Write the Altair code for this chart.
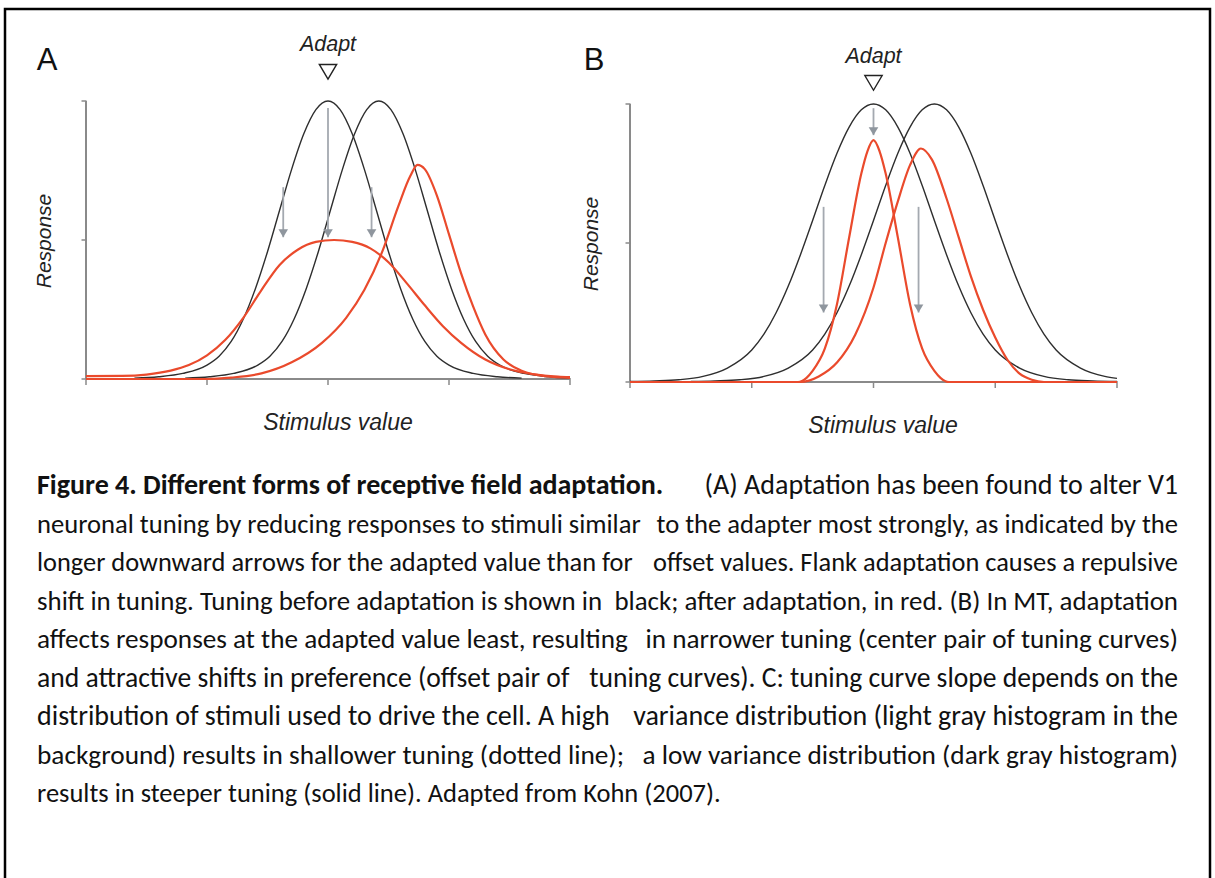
import altair as alt
import pandas as pd

# ---------------- Panel A: V1 tuning before / after adaptation ----------------
# stimulus axis runs 0..4, the adapter sits at 2
a_pre1_x = [0.4, 0.6, 0.8, 1.0, 1.1, 1.2, 1.3, 1.4, 1.5, 1.6, 1.7, 1.8, 1.9, 2.0,
            2.1, 2.2, 2.3, 2.4, 2.5, 2.6, 2.7, 2.8, 2.9, 3.0, 3.2, 3.4, 3.6]
a_pre1_y = [0.003, 0.008, 0.02, 0.05, 0.082, 0.135, 0.216, 0.325, 0.458, 0.607, 0.755, 0.882, 0.969, 1.0,
            0.969, 0.882, 0.755, 0.607, 0.458, 0.325, 0.216, 0.135, 0.082, 0.05, 0.02, 0.008, 0.003]
a_pre2_x = [0.82, 1.02, 1.22, 1.42, 1.52, 1.62, 1.72, 1.82, 1.92, 2.02, 2.12, 2.22, 2.32, 2.42,
            2.52, 2.62, 2.72, 2.82, 2.92, 3.02, 3.12, 3.22, 3.32, 3.42, 3.62, 3.82, 4.0]
a_pre2_y = [0.003, 0.008, 0.02, 0.05, 0.082, 0.135, 0.216, 0.325, 0.458, 0.607, 0.755, 0.882, 0.969, 1.0,
            0.969, 0.882, 0.755, 0.607, 0.458, 0.325, 0.216, 0.135, 0.082, 0.05, 0.02, 0.008, 0.003]
a_post1_x = [0.0, 0.3, 0.5, 0.7, 0.85, 1.0, 1.15, 1.3, 1.45, 1.6, 1.75, 1.9, 2.05, 2.2, 2.35,
             2.5, 2.65, 2.8, 2.95, 3.1, 3.3, 3.5, 3.7, 3.9, 4.0]
a_post1_y = [0.01, 0.011, 0.016, 0.03, 0.05, 0.085, 0.14, 0.22, 0.32, 0.41, 0.465, 0.493, 0.5, 0.493, 0.47,
             0.42, 0.345, 0.265, 0.19, 0.13, 0.07, 0.035, 0.017, 0.009, 0.007]
a_post2_x = [0.0, 1.0, 1.2, 1.45, 1.7, 1.95, 2.15, 2.3, 2.45, 2.58, 2.68, 2.74, 2.8, 2.9,
             3.0, 3.1, 3.2, 3.3, 3.45, 3.6, 3.8, 4.0]
a_post2_y = [0.0, 0.0, 0.005, 0.02, 0.06, 0.13, 0.22, 0.32, 0.46, 0.62, 0.73, 0.77, 0.755, 0.66,
             0.52, 0.38, 0.26, 0.16, 0.07, 0.03, 0.01, 0.004]
a_arrow_x = [1.63, 2.0, 2.36]
a_arrow_from = [0.69, 0.975, 0.69]
a_arrow_to = [0.51, 0.51, 0.51]

# ---------------- Panel B: MT tuning before / after adaptation ----------------
b_pre1_x = [0.0, 0.2, 0.4, 0.6, 0.8, 1.0, 1.1, 1.2, 1.3, 1.4, 1.5, 1.6, 1.7, 1.8, 1.9, 2.0,
            2.1, 2.2, 2.3, 2.4, 2.5, 2.6, 2.7, 2.8, 2.9, 3.0, 3.2, 3.4, 3.6, 3.8, 4.0]
b_pre1_y = [0.002, 0.004, 0.008, 0.02, 0.05, 0.115, 0.172, 0.249, 0.345, 0.458, 0.581, 0.707, 0.823, 0.917, 0.979, 1.0,
            0.979, 0.917, 0.823, 0.707, 0.581, 0.458, 0.345, 0.249, 0.172, 0.115, 0.05, 0.02, 0.008, 0.004, 0.002]
b_pre2_x = [0.5, 0.7, 0.9, 1.1, 1.3, 1.5, 1.6, 1.7, 1.8, 1.9, 2.0, 2.1, 2.2, 2.3, 2.4, 2.5,
            2.6, 2.7, 2.8, 2.9, 3.0, 3.1, 3.2, 3.3, 3.4, 3.5, 3.7, 3.9, 4.0]
b_pre2_y = [0.002, 0.004, 0.008, 0.02, 0.05, 0.115, 0.172, 0.249, 0.345, 0.458, 0.581, 0.707, 0.823, 0.917, 0.979, 1.0,
            0.979, 0.917, 0.823, 0.707, 0.581, 0.458, 0.345, 0.249, 0.172, 0.115, 0.05, 0.02, 0.013]
b_post1_x = [0.0, 1.38, 1.45, 1.5, 1.6, 1.7, 1.8, 1.9, 1.95, 2.0, 2.05, 2.1, 2.2, 2.3, 2.4, 2.5, 2.55, 2.62, 4.0]
b_post1_y = [0.0, 0.0, 0.015, 0.04, 0.12, 0.28, 0.52, 0.75, 0.83, 0.87, 0.83, 0.75, 0.52, 0.28, 0.12, 0.04, 0.015, 0.0, 0.0]
b_post2_x = [0.0, 1.4, 1.55, 1.7, 1.85, 2.0, 2.1, 2.2, 2.3, 2.39, 2.48, 2.6, 2.7, 2.8, 2.9, 3.0, 3.1, 3.2, 3.3, 3.4, 4.0]
b_post2_y = [0.0, 0.0, 0.02, 0.07, 0.17, 0.34, 0.5, 0.65, 0.78, 0.84, 0.8, 0.66, 0.52, 0.38, 0.26, 0.16, 0.08, 0.03, 0.008, 0.0, 0.0]
b_arrow_x = [1.59, 2.0, 2.37]
b_arrow_from = [0.63, 0.985, 0.63]
b_arrow_to = [0.25, 0.888, 0.25]

x_ticks = [0, 1, 2, 3, 4]
y_ticks = [0, 0.5, 1]
adapt_value = 2.0

# ---------------- caption (justified paragraph) ----------------
caption_bold = "Figure 4. Different forms of receptive field adaptation."
caption_lines = [
    "(A) Adaptation has been found to alter V1",
    "neuronal tuning by reducing responses to stimuli similar to the adapter most strongly, as indicated by the",
    "longer downward arrows for the adapted value than for offset values. Flank adaptation causes a repulsive",
    "shift in tuning. Tuning before adaptation is shown in black; after adaptation, in red. (B) In MT, adaptation",
    "affects responses at the adapted value least, resulting in narrower tuning (center pair of tuning curves)",
    "and attractive shifts in preference (offset pair of tuning curves). C: tuning curve slope depends on the",
    "distribution of stimuli used to drive the cell. A high variance distribution (light gray histogram in the",
    "background) results in shallower tuning (dotted line); a low variance distribution (dark gray histogram)",
    "results in steeper tuning (solid line). Adapted from Kohn (2007).",
]
# per-line type size, so each justified line fills the measure
caption_sizes = [28.0, 26.6, 26.4, 26.9, 27.2, 27.6, 28.0, 27.3, 26.5]

BLACK = "#2e2e2e"
RED = "#ea4a2c"
AXIS = "#8a8a8a"
ARROW = "#a4a9b0"
ARROW_HEAD = "#8f969e"
SANS = "Liberation Sans, Arial, Helvetica, sans-serif"
CAPTION_FONT = "Carlito, Calibri, Lato, sans-serif"
TEXT_LEFT, TEXT_RIGHT = 37, 1178


def series(name, xs, ys):
    return pd.DataFrame({"curve": name, "x": xs, "y": ys, "i": list(range(len(xs)))})


def panel(xs, ys, pre, post, arr_x, arr_from, arr_to, tri_y, text_y):
    X = lambda f="x:Q": alt.X(f, scale=xs, axis=None)
    Y = lambda f="y:Q": alt.Y(f, scale=ys, axis=None)

    axes_df = pd.DataFrame({"x": [0, 0], "y": [0, 0], "x2": [4, 0], "y2": [0, 1]})
    axes = alt.Chart(axes_df).mark_rule(color=AXIS, strokeWidth=2).encode(
        x=X(), y=Y(), x2="x2:Q", y2="y2:Q")
    xt = alt.Chart(pd.DataFrame({"x": x_ticks, "y": 0})).mark_tick(
        orient="vertical", size=7, thickness=1.5, yOffset=2.5, color=AXIS, opacity=1
    ).encode(x=X(), y=Y())
    yt = alt.Chart(pd.DataFrame({"x": 0, "y": y_ticks})).mark_tick(
        orient="horizontal", size=5, thickness=1.5, xOffset=-2, color=AXIS, opacity=1
    ).encode(x=X(), y=Y())

    before = alt.Chart(pd.concat(pre)).mark_line(
        color=BLACK, strokeWidth=1.4, interpolate="monotone"
    ).encode(x=X(), y=Y(), detail="curve:N", order="i:Q")
    after = alt.Chart(pd.concat(post)).mark_line(
        color=RED, strokeWidth=2.2, interpolate="monotone"
    ).encode(x=X(), y=Y(), detail="curve:N", order="i:Q")

    arr_df = pd.DataFrame({"x": arr_x, "y": arr_from, "y2": arr_to})
    shafts = alt.Chart(arr_df).mark_rule(color=ARROW, strokeWidth=1.8).encode(
        x=X(), y=Y(), y2="y2:Q")
    heads = alt.Chart(arr_df).mark_point(
        shape="M-0.6,-1L0.6,-1L0,0Z", size=256, filled=True, color=ARROW_HEAD, opacity=1
    ).encode(x=X(), y=Y("y2:Q"))

    mark_df = pd.DataFrame({"x": [adapt_value], "y": [tri_y], "ty": [text_y], "t": ["Adapt"]})
    tri = alt.Chart(mark_df).mark_point(
        shape="M-1,-0.85L1,-0.85L0,0.85Z", size=300, fill="white", stroke="#222222",
        strokeWidth=1.4, opacity=1, fillOpacity=1
    ).encode(x=X(), y=Y())
    adapt = alt.Chart(mark_df).mark_text(
        font=SANS, fontSize=21.5, fontStyle="italic", color="#222222", baseline="middle"
    ).encode(x=X(), y=Y("ty:Q"), text="t:N")

    return alt.layer(axes, xt, yt, before, after, shafts, heads, tri, adapt)


xa = alt.Scale(domain=[0, 4], range=[86, 570], nice=False, zero=False)
ya = alt.Scale(domain=[0, 1], range=[379, 101], nice=False, zero=False)
xb = alt.Scale(domain=[0, 4], range=[630, 1117], nice=False, zero=False)
yb = alt.Scale(domain=[0, 1], range=[382, 104], nice=False, zero=False)

panel_a = panel(
    xa, ya,
    [series("a_pre1", a_pre1_x, a_pre1_y), series("a_pre2", a_pre2_x, a_pre2_y)],
    [series("a_post1", a_post1_x, a_post1_y), series("a_post2", a_post2_x, a_post2_y)],
    a_arrow_x, a_arrow_from, a_arrow_to, 1.105, 1.2)
panel_b = panel(
    xb, yb,
    [series("b_pre1", b_pre1_x, b_pre1_y), series("b_pre2", b_pre2_x, b_pre2_y)],
    [series("b_post1", b_post1_x, b_post1_y), series("b_post2", b_post2_x, b_post2_y)],
    b_arrow_x, b_arrow_from, b_arrow_to, 1.076, 1.17)

PX = lambda f: alt.X(f, scale=None, axis=None)
PY = lambda f: alt.Y(f, scale=None, axis=None)

letters = alt.Chart(pd.DataFrame({"t": ["A", "B"], "px": [47, 594], "py": [61, 61]})).mark_text(
    font=SANS, fontSize=31, color="#111111", baseline="middle"
).encode(x=PX("px:Q"), y=PY("py:Q"), text="t:N")
ylabels = alt.Chart(pd.DataFrame({"t": ["Response", "Response"], "px": [45, 592], "py": [241, 244]})).mark_text(
    font=SANS, fontSize=21, fontStyle="italic", color="#222222", angle=270, baseline="middle"
).encode(x=PX("px:Q"), y=PY("py:Q"), text="t:N")
xlabels = alt.Chart(pd.DataFrame({"t": ["Stimulus value", "Stimulus value"], "px": [338, 883], "py": [423, 426]})).mark_text(
    font=SANS, fontSize=23, fontStyle="italic", color="#222222", baseline="middle"
).encode(x=PX("px:Q"), y=PY("py:Q"), text="t:N")

frame = alt.Chart(pd.DataFrame({"a": [0]})).mark_rect(
    fill="transparent", stroke="#000000", strokeWidth=2.5
).encode(x=alt.value(5), x2=alt.value(1210), y=alt.value(9), y2=alt.value(900))


# Justify each caption line: the first half sits flush left, the second flush right.
def halves(text):
    words = text.split(" ")
    best, best_d = 1, 1e9
    for k in range(1, len(words)):
        d = abs(len(" ".join(words[:k])) - len(text) / 2)
        if d < best_d:
            best, best_d = k, d
    return " ".join(words[:best]), " ".join(words[best:])


rows = []
last = len(caption_lines) - 1
for n, line in enumerate(caption_lines):
    size = caption_sizes[n]
    if n == 0:
        rows.append((n, caption_bold, "left", TEXT_LEFT, True, size))
        rows.append((n, line, "right", TEXT_RIGHT, False, size))
    elif n == last:
        rows.append((n, line, "left", TEXT_LEFT, False, size))
    else:
        left, right = halves(line)
        rows.append((n, left, "left", TEXT_LEFT, False, size))
        rows.append((n, right, "right", TEXT_RIGHT, False, size))
cap_df = pd.DataFrame(rows, columns=["line", "t", "align", "px", "bold", "size"])

line_y = alt.Scale(domain=[0, 8], range=[494, 802])
cap_layers = []
for align in ["left", "right"]:
    for bold in [False, True]:
        sub = cap_df[(cap_df["align"] == align) & (cap_df["bold"] == bold)]
        if len(sub) == 0:
            continue
        cap_layers.append(
            alt.Chart(sub).mark_text(
                font=CAPTION_FONT, align=align, baseline="alphabetic",
                color="#111111", fontWeight="bold" if bold else "normal"
            ).encode(
                x=PX("px:Q"), y=alt.Y("line:Q", scale=line_y, axis=None), text="t:N",
                size=alt.Size("size:Q", scale=None, legend=None),
            )
        )

chart = alt.layer(
    frame, panel_a, panel_b, letters, ylabels, xlabels, *cap_layers
).resolve_scale(
    x="independent", y="independent"
).properties(
    width=1215, height=878, padding=0, background="white",
    autosize=alt.AutoSizeParams(type="none"),
).configure_view(stroke=None)

chart.save("out.html", embed_options={"renderer": "svg", "actions": False})
